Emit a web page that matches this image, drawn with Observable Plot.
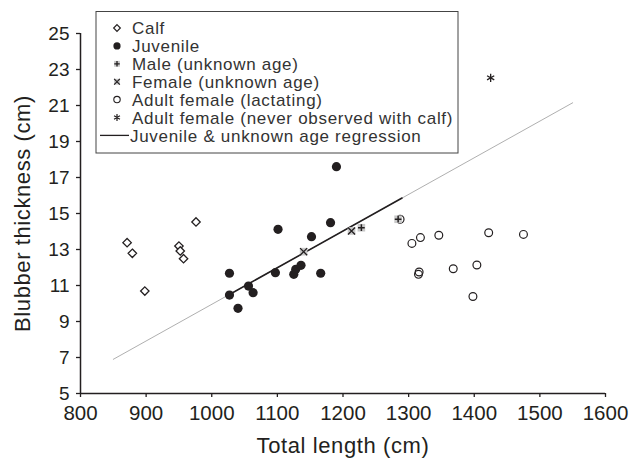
<!DOCTYPE html>
<html><head><meta charset="utf-8">
<script src="https://cdn.jsdelivr.net/npm/d3@7"></script>
<script src="https://cdn.jsdelivr.net/npm/@observablehq/plot@0.6"></script>
<style>html,body{margin:0;padding:0;background:#fff}</style>
</head><body><div id="chart"></div>
<script>
// ---- data ----
const calfLength = [871, 879, 898, 950, 952, 957, 976];
const calfBlubber = [13.38, 12.79, 10.69, 13.19, 12.92, 12.49, 14.53];

const juvLength = [1027, 1027, 1040, 1056, 1063, 1097, 1101, 1125, 1128, 1136, 1152, 1166, 1181, 1190];
const juvBlubber = [11.68, 10.47, 9.73, 10.97, 10.6, 11.71, 14.12, 11.62, 11.9, 12.12, 13.71, 11.68, 14.49, 17.6];

const maleLength = [1228, 1284];
const maleBlubber = [14.21, 14.68];

const femaleLength = [1140, 1213];
const femaleBlubber = [12.88, 14.03];

const lactLength = [1287, 1305, 1318, 1346, 1315, 1316, 1368, 1404, 1398, 1422, 1475];
const lactBlubber = [14.68, 13.34, 13.66, 13.79, 11.62, 11.75, 11.93, 12.14, 10.39, 13.93, 13.84];

const neverLength = [1425];
const neverBlubber = [22.54];

// regression line: extended (grey) and fitted range (black)
const regExtLength = [850, 1550];
const regExtBlubber = [6.9, 21.15];
const regFitLength = [1027, 1290];
const regFitBlubber = [10.5, 15.86];

const xTicks = [800, 900, 1000, 1100, 1200, 1300, 1400, 1500, 1600];
const yTicks = [5, 7, 9, 11, 13, 15, 17, 19, 21, 23, 25];

const legendLabels = ["Calf", "Juvenile", "Male (unknown age)", "Female (unknown age)",
  "Adult female (lactating)", "Adult female (never observed with calf)", "Juvenile & unknown age regression"];

// ---- build tables ----
const zip = (xs, ys) => xs.map((x, i) => ({x, y: ys[i]}));
const calf = zip(calfLength, calfBlubber);
const juv = zip(juvLength, juvBlubber);
const male = zip(maleLength, maleBlubber);
const female = zip(femaleLength, femaleBlubber);
const lact = zip(lactLength, lactBlubber);
const never = zip(neverLength, neverBlubber);
const regExt = zip(regExtLength, regExtBlubber);
const regFit = zip(regFitLength, regFitBlubber);

const ink = "#231f20";
const font = "'Liberation Sans', Arial, Helvetica, sans-serif";

const plot = Plot.plot({
  width: 635,
  height: 460,
  marginLeft: 80,
  marginRight: 30,
  marginTop: 33,
  marginBottom: 67,
  style: {fontFamily: font, fontSize: "19px", color: ink, background: "#fff"},
  x: {domain: [800, 1600]},
  y: {domain: [5, 25]},
  marks: [
    Plot.line(regExt, {x: "x", y: "y", stroke: "#9a9a9a", strokeWidth: 0.8}),
    Plot.line(regFit, {x: "x", y: "y", stroke: ink, strokeWidth: 1.6}),
    Plot.dot(calf, {x: "x", y: "y", symbol: "diamond2", r: 3.8, stroke: ink, fill: "#fff", strokeWidth: 1.3}),
    Plot.dot(juv, {x: "x", y: "y", symbol: "circle", r: 4.6, fill: ink, stroke: "none"}),
    Plot.dot(lact, {x: "x", y: "y", symbol: "circle", r: 3.9, stroke: ink, fill: "none", strokeWidth: 1.2}),
    Plot.dot(male, {x: "x", y: "y", symbol: "square", r: 4.3, fill: "#c8c8c8", stroke: "none"}),
    Plot.dot(male, {x: "x", y: "y", symbol: "plus", r: 2.3, stroke: ink, strokeWidth: 1.5}),
    Plot.dot(female, {x: "x", y: "y", symbol: "square", r: 4.3, fill: "#c8c8c8", stroke: "none"}),
    Plot.dot(female, {x: "x", y: "y", symbol: "times", r: 3.3, stroke: ink, strokeWidth: 1.3}),
    Plot.dot(never, {x: "x", y: "y", symbol: "asterisk", r: 3.9, stroke: ink, strokeWidth: 1.3}),
    Plot.ruleX([800], {stroke: ink, strokeWidth: 1.5}),
    Plot.ruleY([5], {stroke: ink, strokeWidth: 1.5}),
    Plot.axisX({ticks: xTicks, tickFormat: d3.format("d"), tickSize: 4, tickPadding: 8, label: null, stroke: ink, strokeWidth: 1.3, fill: ink, fontSize: 20.5}),
    Plot.axisY({ticks: yTicks, tickFormat: d3.format("d"), tickSize: 4, tickPadding: 7, label: null, stroke: ink, strokeWidth: 1.3, fill: ink, fontSize: 19}),
    Plot.text(["Total length (cm)"], {className: "axtitle", frameAnchor: "bottom", dy: 52, lineAnchor: "middle", textAnchor: "middle", fontSize: 22, fill: ink}),
    Plot.text(["Blubber thickness (cm)"], {className: "axtitle", frameAnchor: "left", dx: -58, rotate: -90, textAnchor: "middle", lineAnchor: "middle", fontSize: 22, fill: ink})
  ]
});
document.getElementById("chart").appendChild(plot);

const svg = d3.select(plot);
svg.selectAll(".axtitle text").attr("letter-spacing", "0.6px");

// ---- legend ----
const g = svg.append("g").attr("font-family", font).attr("text-anchor", "start");
g.append("rect").attr("x", 96).attr("y", 11.5).attr("width", 362).attr("height", 141.5)
  .attr("fill", "#fff").attr("stroke", "#444").attr("stroke-width", 1);
const rowY = i => 28 + i * 17.9;
const sx = 117;
const sym = (type, r) => d3.symbol().type(type).size(Math.PI * r * r)();
const tr = i => `translate(${sx},${rowY(i)})`;
g.append("path").attr("d", sym(d3.symbolDiamond2, 3.0)).attr("transform", tr(0)).attr("fill", "#fff").attr("stroke", ink).attr("stroke-width", 1.2);
g.append("path").attr("d", sym(d3.symbolCircle, 3.6)).attr("transform", tr(1)).attr("fill", ink).attr("stroke", "none");
g.append("path").attr("d", sym(d3.symbolSquare, 3.3)).attr("transform", tr(2)).attr("fill", "#c8c8c8").attr("stroke", "none");
g.append("path").attr("d", sym(d3.symbolPlus, 1.9)).attr("transform", tr(2)).attr("fill", "none").attr("stroke", ink).attr("stroke-width", 1.3);
g.append("path").attr("d", sym(d3.symbolSquare, 3.3)).attr("transform", tr(3)).attr("fill", "#c8c8c8").attr("stroke", "none");
g.append("path").attr("d", sym(d3.symbolTimes, 2.7)).attr("transform", tr(3)).attr("fill", "none").attr("stroke", ink).attr("stroke-width", 1.2);
g.append("path").attr("d", sym(d3.symbolCircle, 3.2)).attr("transform", tr(4)).attr("fill", "none").attr("stroke", ink).attr("stroke-width", 1.1);
g.append("path").attr("d", sym(d3.symbolAsterisk, 3.2)).attr("transform", tr(5)).attr("fill", "none").attr("stroke", ink).attr("stroke-width", 1.2);
g.append("line").attr("x1", 100).attr("x2", 129).attr("y1", rowY(6)).attr("y2", rowY(6)).attr("stroke", ink).attr("stroke-width", 1.3);
legendLabels.forEach((t, i) => {
  g.append("text").attr("x", i === 6 ? 130 : 132).attr("y", rowY(i)).attr("dy", "0.36em")
    .attr("text-anchor", "start").attr("font-size", 17).attr("letter-spacing", "0.7px")
    .attr("fill", "#333").text(t);
});
</script>
</body></html>
